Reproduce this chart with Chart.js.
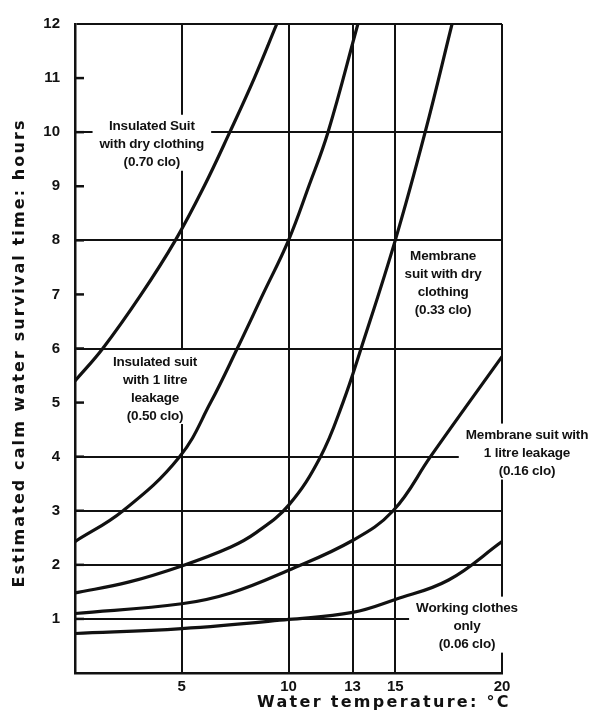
<!DOCTYPE html>
<html>
<head>
<meta charset="utf-8">
<script src="https://cdn.jsdelivr.net/npm/chart.js@4.4.1/dist/chart.umd.min.js"></script>
<style>
  html, body { margin: 0; padding: 0; background: #fff; }
  canvas { display: block; }
</style>
</head>
<body>
<canvas id="survivalChart" width="592" height="717"></canvas>
<script>
// Calm water survival time vs water temperature, per clothing ensemble
const xTickValues = [0, 5, 10, 13, 15, 20];
const yGridValues = [1, 2, 3, 4, 6, 8, 10, 12];   // full gridlines; other hours get a tick only

const insulatedDryTemp = [0, 1.3, 3.1, 4.7, 6.05, 7.25, 8.4, 9.45];
const insulatedDryHours = [5.4, 6, 7, 8, 9, 10, 11, 12];

const insulatedLeakTemp = [0, 2.25, 4.9, 6.35, 7.6, 8.8, 10, 10.95, 11.85, 13.25];
const insulatedLeakHours = [2.43, 3, 4, 5, 6, 7, 8, 9, 10, 12];

const membraneDryTemp = [0, 2.5, 5, 7.3, 8.5, 10, 11.5, 12.55, 13.4, 15, 16.4, 17.66];
const membraneDryHours = [1.48, 1.68, 1.98, 2.33, 2.6, 3.1, 4, 5, 6, 8, 10, 12];

const membraneLeakTemp = [0, 5, 7.3, 10, 13, 14.9, 16.65, 18.45, 20];
const membraneLeakHours = [1.1, 1.28, 1.48, 1.9, 2.45, 3, 4, 5, 5.85];

const workingTemp = [0, 5, 10, 13, 15, 17.5, 20];
const workingHours = [0.73, 0.82, 0.99, 1.12, 1.36, 1.72, 2.43];

const curveLabels = [
    { x: 3.6, y: 10.1, lines: ['Insulated Suit', 'with dry clothing', '(0.70 clo)'] },
    { x: 3.75, y: 5.75, lines: ['Insulated suit', 'with 1 litre', 'leakage', '(0.50 clo)'] },
    { x: 17.24, y: 7.7, lines: ['Membrane', 'suit with dry', 'clothing', '(0.33 clo)'] },
    { x: 21.17, y: 4.39, lines: ['Membrane suit with', '1 litre leakage', '(0.16 clo)'] },
    { x: 18.36, y: 1.19, lines: ['Working clothes', 'only', '(0.06 clo)'] }
];

const INK = '#111';
const LABEL_FONT = 'bold 13.5px "Liberation Sans", Arial, sans-serif';
const TICK_FONT = { family: '"Liberation Sans", Arial, sans-serif', size: 15, weight: 'bold' };

function toPoints(xs, ys) {
    return xs.map((x, i) => ({ x: x, y: ys[i] }));
}

function curve(xs, ys) {
    return {
        data: toPoints(xs, ys),
        showLine: true,
        borderColor: INK,
        borderWidth: 3.2,
        pointRadius: 0,
        tension: 0.4,
        fill: false
    };
}

const annotatePlugin = {
    id: 'annotate',
    beforeDatasetsDraw(chart) {
        const { ctx, scales: { x, y }, chartArea } = chart;
        ctx.save();
        // curve labels on white patches (they break the gridlines like the original)
        ctx.font = LABEL_FONT;
        ctx.letterSpacing = '-0.2px';
        curveLabels.forEach(l => {
            const cx = x.getPixelForValue(l.x);
            const top = y.getPixelForValue(l.y);
            const w = Math.max(...l.lines.map(t => ctx.measureText(t).width));
            ctx.fillStyle = '#fff';
            ctx.fillRect(cx - w / 2 - 7, top - 12, w + 14, (l.lines.length - 1) * 18 + 20);
            ctx.fillStyle = INK;
            ctx.textAlign = 'center';
            ctx.textBaseline = 'middle';
            l.lines.forEach((t, i) => ctx.fillText(t, cx, top + i * 18));
        });
        // short inward tick marks on the hour axis
        ctx.strokeStyle = INK;
        ctx.lineWidth = 2.5;
        for (let v = 1; v < 12; v++) {
            const py = y.getPixelForValue(v);
            ctx.beginPath();
            ctx.moveTo(chartArea.left, py);
            ctx.lineTo(chartArea.left + 9, py);
            ctx.stroke();
        }
        ctx.restore();
    },
    afterDraw(chart) {
        const { ctx } = chart;
        ctx.save();
        ctx.fillStyle = INK;
        ctx.font = '600 16px "DejaVu Sans", sans-serif';
        ctx.letterSpacing = '2.3px';
        ctx.textAlign = 'center';
        ctx.textBaseline = 'middle';
        ctx.fillText('Water temperature: \u00B0C', 384, 703);
        ctx.translate(20, 353);
        ctx.rotate(-Math.PI / 2);
        ctx.letterSpacing = '2.1px';
        ctx.fillText('Estimated calm water survival time: hours', 0, 0);
        ctx.restore();
    }
};

new Chart(document.getElementById('survivalChart'), {
    type: 'scatter',
    data: {
        datasets: [
            curve(insulatedDryTemp, insulatedDryHours),
            curve(insulatedLeakTemp, insulatedLeakHours),
            curve(membraneDryTemp, membraneDryHours),
            curve(membraneLeakTemp, membraneLeakHours),
            curve(workingTemp, workingHours)
        ]
    },
    options: {
        responsive: false,
        animation: false,
        layout: { padding: { top: 17, right: 90, left: 0, bottom: 0 } },
        scales: {
            x: {
                type: 'linear',
                min: 0, max: 20,
                afterBuildTicks: scale => { scale.ticks = xTickValues.map(v => ({ value: v })); },
                afterFit: scale => { scale.height = 44; },
                grid: { color: INK, lineWidth: 2, drawTicks: false },
                border: { color: INK, width: 2.5 },
                ticks: { color: INK, font: TICK_FONT, padding: 5, autoSkip: false, maxRotation: 0,
                         callback: v => v === 0 ? '' : v }
            },
            y: {
                min: 0, max: 12,
                afterFit: scale => { scale.width = 75; },
                grid: {
                    drawTicks: false,
                    lineWidth: 2,
                    color: c => yGridValues.includes(c.tick.value) ? INK : 'rgba(0,0,0,0)'
                },
                border: { color: INK, width: 2.5 },
                ticks: { stepSize: 1, color: INK, font: TICK_FONT, padding: 15, autoSkip: false,
                         callback: v => v === 0 ? '' : v }
            }
        },
        plugins: { legend: { display: false }, tooltip: { enabled: false } }
    },
    plugins: [annotatePlugin]
});
</script>
</body>
</html>
